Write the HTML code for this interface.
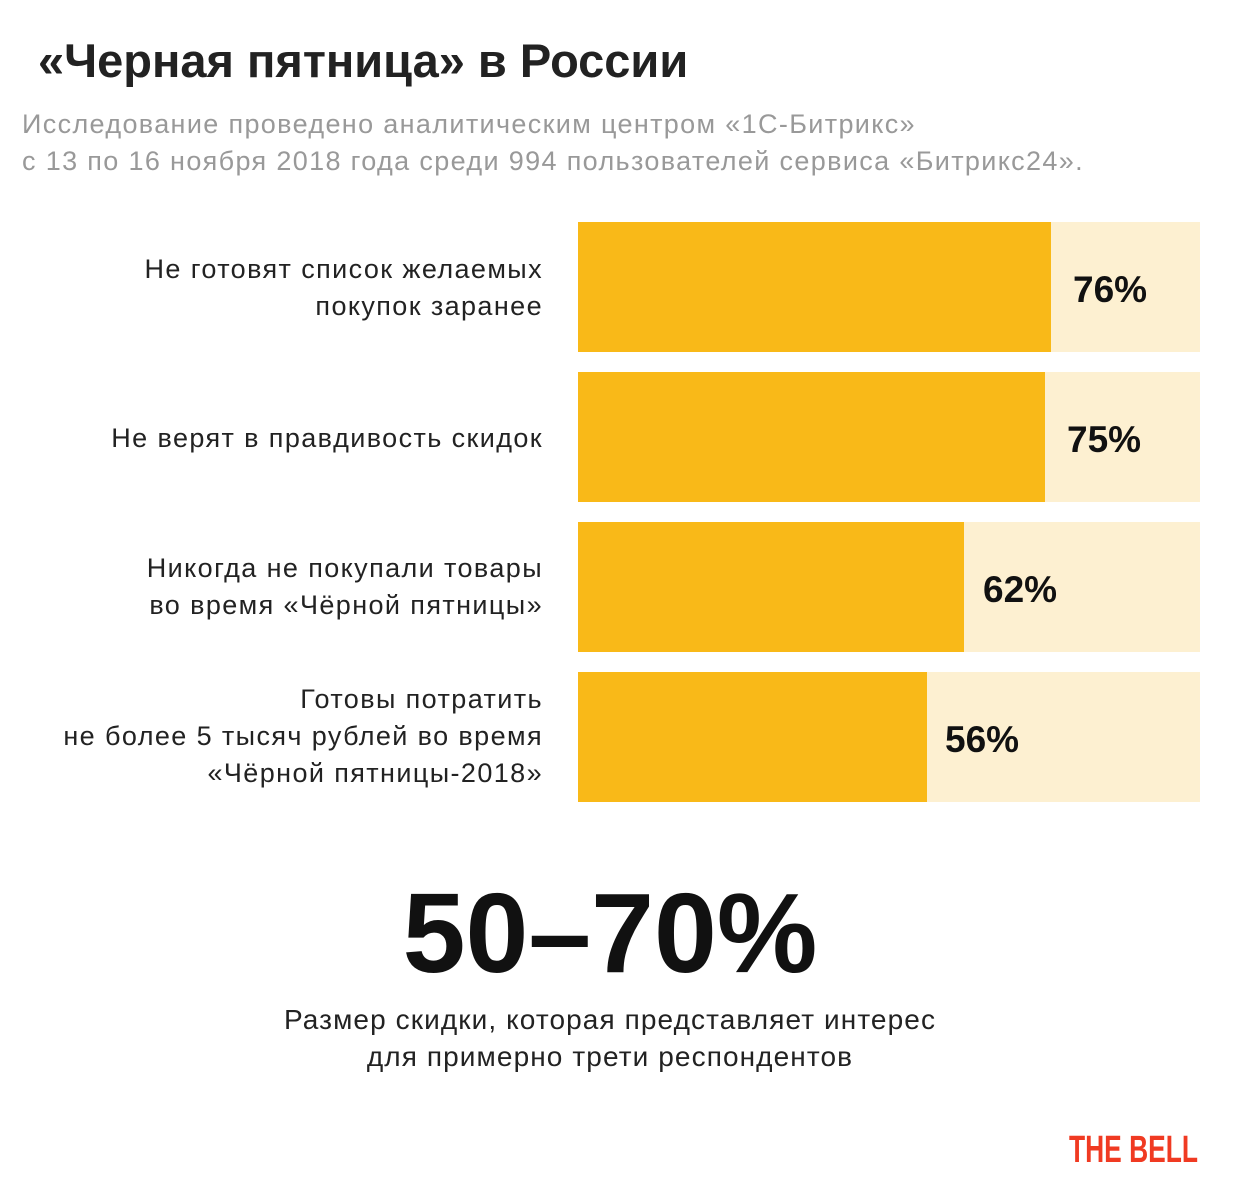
<!DOCTYPE html>
<html><head><meta charset="utf-8"><style>
body{margin:0;width:1240px;height:1200px;background:#fff;position:relative;font-family:"Liberation Sans","DejaVu Sans",sans-serif;overflow:hidden}
.a{position:absolute;white-space:nowrap}
.t{left:38px;top:33px;font-size:47px;font-weight:bold;color:#222}
.s{left:22px;font-size:27px;color:#999;letter-spacing:1.35px}
.lab{right:697px;text-align:right;font-size:27px;color:#222;line-height:37px;letter-spacing:1.4px}
.bg{position:absolute;left:578px;width:622px;height:130px;background:#FDF0D1}
.fg{position:absolute;left:0;top:0;height:130px;background:#F9B918}
.p{position:absolute;top:47px;font-size:37px;font-weight:bold;color:#111}
.big{left:0;width:1220px;text-align:center;top:868px;font-size:113px;font-weight:bold;color:#111}
.cap{left:0;width:1220px;text-align:center;font-size:28px;color:#222;line-height:37px;top:1001px;letter-spacing:1.1px}
</style></head><body>
<div class="a t">«Черная пятница» в России</div>
<div class="a s" style="top:109px">Исследование проведено аналитическим центром «1С-Битрикс»</div>
<div class="a s" style="top:146px">с 13 по 16 ноября 2018 года среди 994 пользователей сервиса «Битрикс24».</div>

<div class="bg" style="top:222px"><div class="fg" style="width:473px"></div><div class="p" style="left:495px">76%</div></div>
<div class="bg" style="top:372px"><div class="fg" style="width:467px"></div><div class="p" style="left:489px">75%</div></div>
<div class="bg" style="top:522px"><div class="fg" style="width:386px"></div><div class="p" style="left:405px">62%</div></div>
<div class="bg" style="top:672px"><div class="fg" style="width:349px"></div><div class="p" style="left:367px">56%</div></div>

<div class="a lab" style="top:251px">Не готовят список желаемых<br>покупок заранее</div>
<div class="a lab" style="top:420px">Не верят в правдивость скидок</div>
<div class="a lab" style="top:550px">Никогда не покупали товары<br>во время «Чёрной пятницы»</div>
<div class="a lab" style="top:681px">Готовы потратить<br>не более 5 тысяч рублей во время<br>«Чёрной пятницы-2018»</div>

<div class="a big">50–70%</div>
<div class="a cap">Размер скидки, которая представляет интерес<br>для примерно трети респондентов</div>

<svg class="a" style="left:1066px;top:1128px" width="140" height="40"><text x="3" y="34" font-family="Liberation Sans, sans-serif" font-weight="bold" font-size="38" fill="#F03A22" textLength="129" lengthAdjust="spacingAndGlyphs">THE BELL</text></svg>
</body></html>
